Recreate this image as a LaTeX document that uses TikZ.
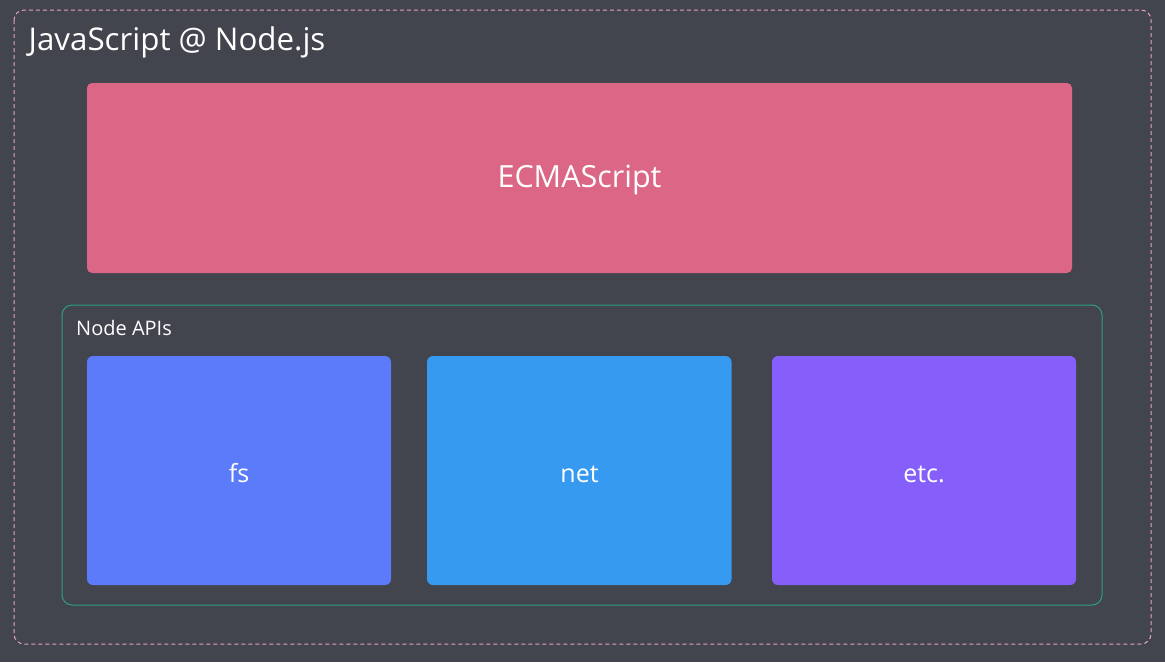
\documentclass[tikz,border=0pt]{standalone}
\usepackage{fontspec}
\setmainfont{Open Sans}
\definecolor{bg}{HTML}{42444E}
\definecolor{outer}{HTML}{E8A4BE}
\definecolor{ecma}{HTML}{DC6685}
\definecolor{apis}{HTML}{2FA07E}
\definecolor{fsc}{HTML}{5B7BFB}
\definecolor{netc}{HTML}{369BF0}
\definecolor{etcc}{HTML}{865FFB}
\tikzset{
  apilabel/.style={text=white, font=\fontsize{25}{30}\selectfont, anchor=base, inner sep=0pt},
}
\begin{document}
\begin{tikzpicture}[x=1pt,y=-1pt]
\fill[bg] (0,0) rectangle (1165,662);
\useasboundingbox (0,0) rectangle (1165,662);
\draw[outer, dash pattern=on 4pt off 3pt, line width=1pt, rounded corners=10pt] (14,10) rectangle (1151,644);
\node[anchor=base west, text=white, font=\fontsize{31.3}{36}\selectfont, inner sep=0pt] (title) at (28.5,50) {JavaScript @ Node.js};
\fill[ecma, rounded corners=5pt] (87,83) rectangle (1072,273);
\node[text=white, font=\fontsize{30.5}{35}\selectfont, anchor=base, inner sep=0pt] (ecmatxt) at (579.5,187) {ECMAScript};
\draw[apis, line width=1pt, rounded corners=10pt] (62,305) rectangle (1102,605);
\node[anchor=base west, text=white, font=\fontsize{20}{24}\selectfont, inner sep=0pt] (apilbl) at (76,335) {Node APIs};
\fill[fsc, rounded corners=6pt] (87,356) rectangle (391,585);
\fill[netc, rounded corners=6pt] (427,356) rectangle (731.5,585);
\fill[etcc, rounded corners=6pt] (772,356) rectangle (1076,585);
\node[apilabel] (fs) at (239,482) {fs};
\node[apilabel] (net) at (579.5,482) {net};
\node[apilabel] (etc) at (924,482) {etc.};
\end{tikzpicture}
\end{document}
